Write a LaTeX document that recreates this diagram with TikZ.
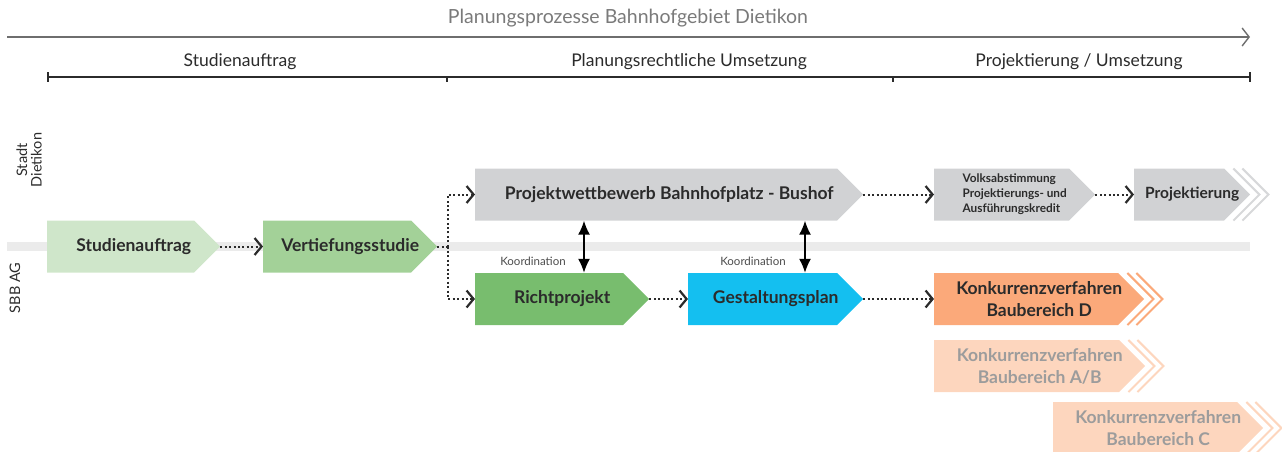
\documentclass[tikz,border=0pt]{standalone}
\usepackage{fontspec}
\setmainfont{Lato}
\usetikzlibrary{arrows.meta,positioning}

\definecolor{textdark}{HTML}{2B2B2B}
\definecolor{titlegray}{HTML}{7A7A7A}
\definecolor{bandgray}{HTML}{EBEBEB}
\definecolor{studgreen}{HTML}{CFE6CA}
\definecolor{vertgreen}{HTML}{A3D198}
\definecolor{richtgreen}{HTML}{78BD6E}
\definecolor{gestcyan}{HTML}{14BFF0}
\definecolor{boxgray}{HTML}{D1D2D4}
\definecolor{chevgray}{HTML}{D7D8DA}
\definecolor{konkorange}{HTML}{FBA97A}
\definecolor{konklight}{HTML}{FDD6BE}
\definecolor{konktext}{HTML}{9C9C9C}

\tikzset{
  stepbox/.style={rectangle, minimum height=52pt, inner sep=0pt, anchor=west, align=center,
    text=textdark, font=\bfseries\fontsize{17.5}{22}\selectfont,
    path picture={\fill[#1] (path picture bounding box.south west) -- (path picture bounding box.north west)
      -- ([xshift=-26pt]path picture bounding box.north east) -- (path picture bounding box.east)
      -- ([xshift=-26pt]path picture bounding box.south east) -- cycle;}},
  flow/.style={draw=textdark, line width=2pt, dash pattern=on 2pt off 2.4pt,
    -{Straight Barb[length=7pt,width=17pt,line width=2.2pt]}},
  koord/.style={draw=black, line width=1.5pt,
    {Latex[length=14pt,width=12pt]}-{Latex[length=14pt,width=12pt]}},
  phase/.style={text=textdark, font=\fontsize{17.5}{20}\selectfont},
  lane/.style={rotate=90, align=center, text=textdark, font=\fontsize{14.5}{14.5}\selectfont},
  koordlabel/.style={text=textdark!85, font=\fontsize{11.5}{13}\selectfont}
}

\begin{document}
\begin{tikzpicture}[x=1pt,y=-1pt]
  \useasboundingbox (0,0) rectangle (1282,451);

  % Zeitachse
  \node[text=titlegray, font=\fontsize{19.5}{22}\selectfont] (title) at (628,18) {Planungsprozesse Bahnhofgebiet Dietikon};
  \coordinate (a0) at (7,37);
  \coordinate (a1) at (1250,37);
  \draw[titlegray!90!black, line width=1.4pt, -{Straight Barb[length=7pt,width=18pt,line width=1.4pt]}] (a0) -- (a1);

  \coordinate (t0) at (48,77);
  \coordinate (t1) at (447,77);
  \coordinate (t2) at (893,77);
  \coordinate (t3) at (1250,77);
  \draw[textdark, line width=1.4pt] (t0) -- (t3);
  \foreach \t in {t0,t3}
    \draw[textdark, line width=1.4pt] ([yshift=5pt]\t) -- ([yshift=-5pt]\t);
  \foreach \t in {t1,t2}
    \draw[textdark, line width=1.4pt] (\t) -- ([yshift=-5pt]\t);
  \foreach \x/\lab in {240/Studienauftrag, 689/Planungsrechtliche Umsetzung, 1079/{Projektierung / Umsetzung}}
    \node[phase] at (\x,62) {\lab};

  % Akteure
  \fill[bandgray] (7,242) rectangle (1250,251);
  \node[lane] (stadt) at (29,160) {Stadt\\Dietikon};
  \node[lane] (sbb) at (15,288) {SBB AG};

  % Prozessschritte
  \node[stepbox=studgreen, minimum width=173pt] (stud) at (47,246.5) {Studienauftrag};
  \node[stepbox=vertgreen, minimum width=174pt] (vert) at (263,246.5) {Vertiefungsstudie};
  \node[stepbox=boxgray, minimum width=388pt] (wett) at (475,194.5) {Projektwettbewerb Bahnhofplatz - Bushof};
  \node[stepbox=richtgreen, minimum width=174pt] (richt) at (475,299) {Richtprojekt};
  \node[stepbox=gestcyan, minimum width=175pt] (gest) at (688,299) {Gestaltungsplan};
  \node[stepbox=boxgray, minimum width=161pt, align=left, font=\bfseries\fontsize{11.8}{15}\selectfont] (volk) at (934,194.5) {Volksabstimmung\\Projektierungs- und\\Ausführungskredit};
  \node[stepbox=boxgray, minimum width=116pt, font=\bfseries\fontsize{15.5}{20}\selectfont] (proj) at (1134,194.5) {Projektierung};
  \node[stepbox=konkorange, minimum width=210pt] (konkD) at (934,299) {Konkurrenzverfahren\\Baubereich D};
  \node[stepbox=konklight, minimum width=211pt, text=konktext] (konkAB) at (934,366) {Konkurrenzverfahren\\Baubereich A/B};
  \node[stepbox=konklight, minimum width=210pt, text=konktext] (konkC) at (1053,428) {Konkurrenzverfahren\\Baubereich C};

  % Fortsetzung
  \foreach \n/\c in {proj/chevgray, konkD/konkorange, konkAB/konklight, konkC/konklight}
    \foreach \d in {9,18}
      \draw[\c, line width=2pt] ([xshift=\d pt-26pt, yshift=26pt]\n.east) -- ([xshift=\d pt]\n.east) -- ([xshift=\d pt-26pt, yshift=-26pt]\n.east);

  % Abfolge
  \coordinate (split) at (448,246.5);
  \draw[flow] (stud.east) -- (vert.west);
  \draw[flow, -] (vert.east) -- (split);
  \draw[flow] (split) |- (wett.west);
  \draw[flow] (split) |- (richt.west);
  \draw[flow] (richt.east) -- (gest.west);
  \draw[flow] (gest.east) -- (konkD.west);
  \draw[flow] (wett.east) -- (volk.west);
  \draw[flow] (volk.east) -- (proj.west);

  % Koordination
  \coordinate (k1) at (584,0);
  \coordinate (k2) at (805,0);
  \draw[koord] (wett.south -| k1) -- (richt.north -| k1);
  \draw[koord] (wett.south -| k2) -- (richt.north -| k2);
  \node[koordlabel] (kl1) at (533,261) {Koordination};
  \node[koordlabel] (kl2) at (753,261) {Koordination};
\end{tikzpicture}
\end{document}
